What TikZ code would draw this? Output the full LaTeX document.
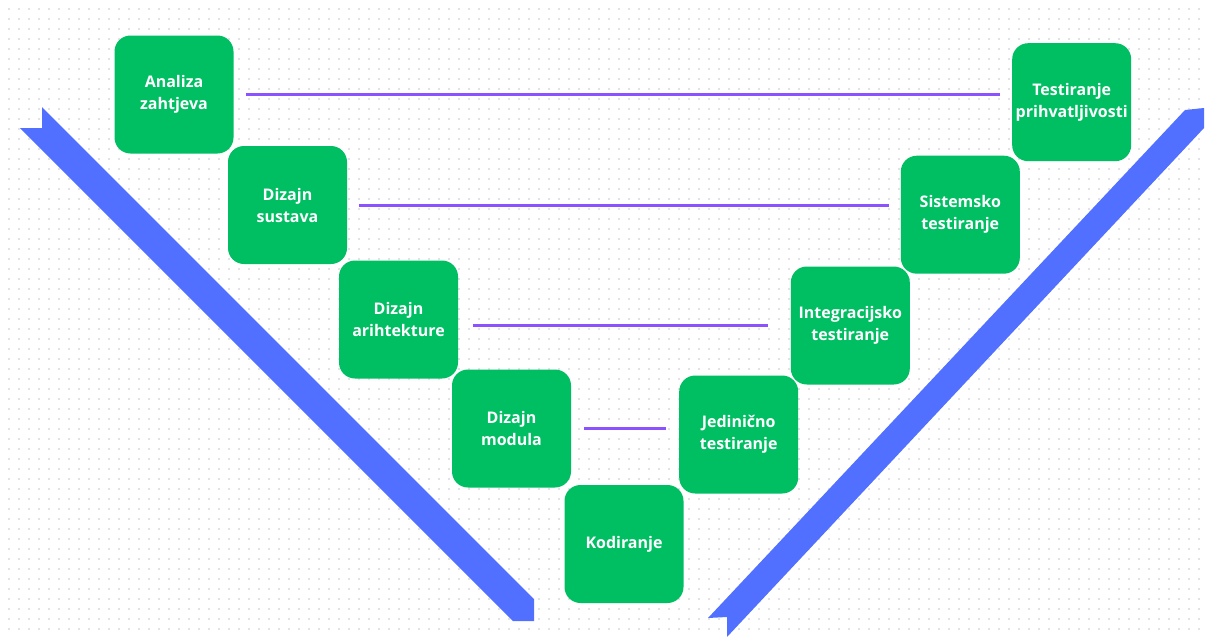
\documentclass[tikz,border=0pt]{standalone}
\usepackage{fontspec}
\setmainfont{Open Sans}
\usepackage{tikz}
\usetikzlibrary{calc}

\definecolor{zelena}{HTML}{00BF63}
\definecolor{plava}{HTML}{5170FF}
\definecolor{ljubicasta}{HTML}{8C52FF}
\definecolor{tocka}{HTML}{E2E2E6}

\begin{document}
\begin{tikzpicture}[x=1pt,y=-1pt,
  faza/.style={fill=zelena, rounded corners=16pt, minimum width=119pt,
    minimum height=118pt, text=white, align=center,
    font=\fontsize{16}{22}\selectfont\bfseries, inner sep=0pt},
  veza/.style={ljubicasta, line width=3pt, shorten <=12pt, shorten >=12pt},
  traka/.style={fill=plava}]
  \useasboundingbox (0,0) rectangle (1208,637);

  % tockasta pozadina
  \foreach \y in {9,19,...,629}
    \draw[tocka, line width=2pt, dash pattern=on 2pt off 8pt] (8,\y) -- (1208,\y);

  % lijeva i desna traka
  \fill[traka] (42,107) -- (534,599) -- (534,621) -- (513,621) -- (20,128) -- (42,128) -- cycle;
  \fill[traka] (708,618) -- (1185,110) -- (1204,108) -- (1204,128) -- (727,637) -- (727,617) -- cycle;

  % lijeva strana
  \node[faza] (analiza) at (174,94.5) {Analiza\\zahtjeva};
  \node[faza] (sustav) at (287.5,205) {Dizajn\\sustava};
  \node[faza] (arhitekt) at (398.5,319.5) {Dizajn\\arihtekture};
  \node[faza] (modul) at (511.5,428.5) {Dizajn\\modula};
  \node[faza] (kodiranje) at (624,544) {Kodiranje};

  % desna strana
  \node[faza] (jedinicno) at (738.7,434.5) {Jedinično\\testiranje};
  \node[faza] (integr) at (850.3,325.5) {Integracijsko\\testiranje};
  \node[faza] (sistemsko) at (960.3,214.7) {Sistemsko\\testiranje};
  \node[faza] (prihvat) at (1071.7,102.2) {Testiranje\\prihvatljivosti};

  % veze
  \draw[veza] (analiza.east) -- (analiza.east -| prihvat.west);
  \draw[veza] (sustav.east) -- (sustav.east -| sistemsko.west);
  \draw[veza, shorten <=15pt, shorten >=23pt] (integr.west -| arhitekt.east) -- (integr.west);
  \draw[veza, shorten <=13pt, shorten >=13pt] (modul.east) -- (modul.east -| jedinicno.west);
\end{tikzpicture}
\end{document}
